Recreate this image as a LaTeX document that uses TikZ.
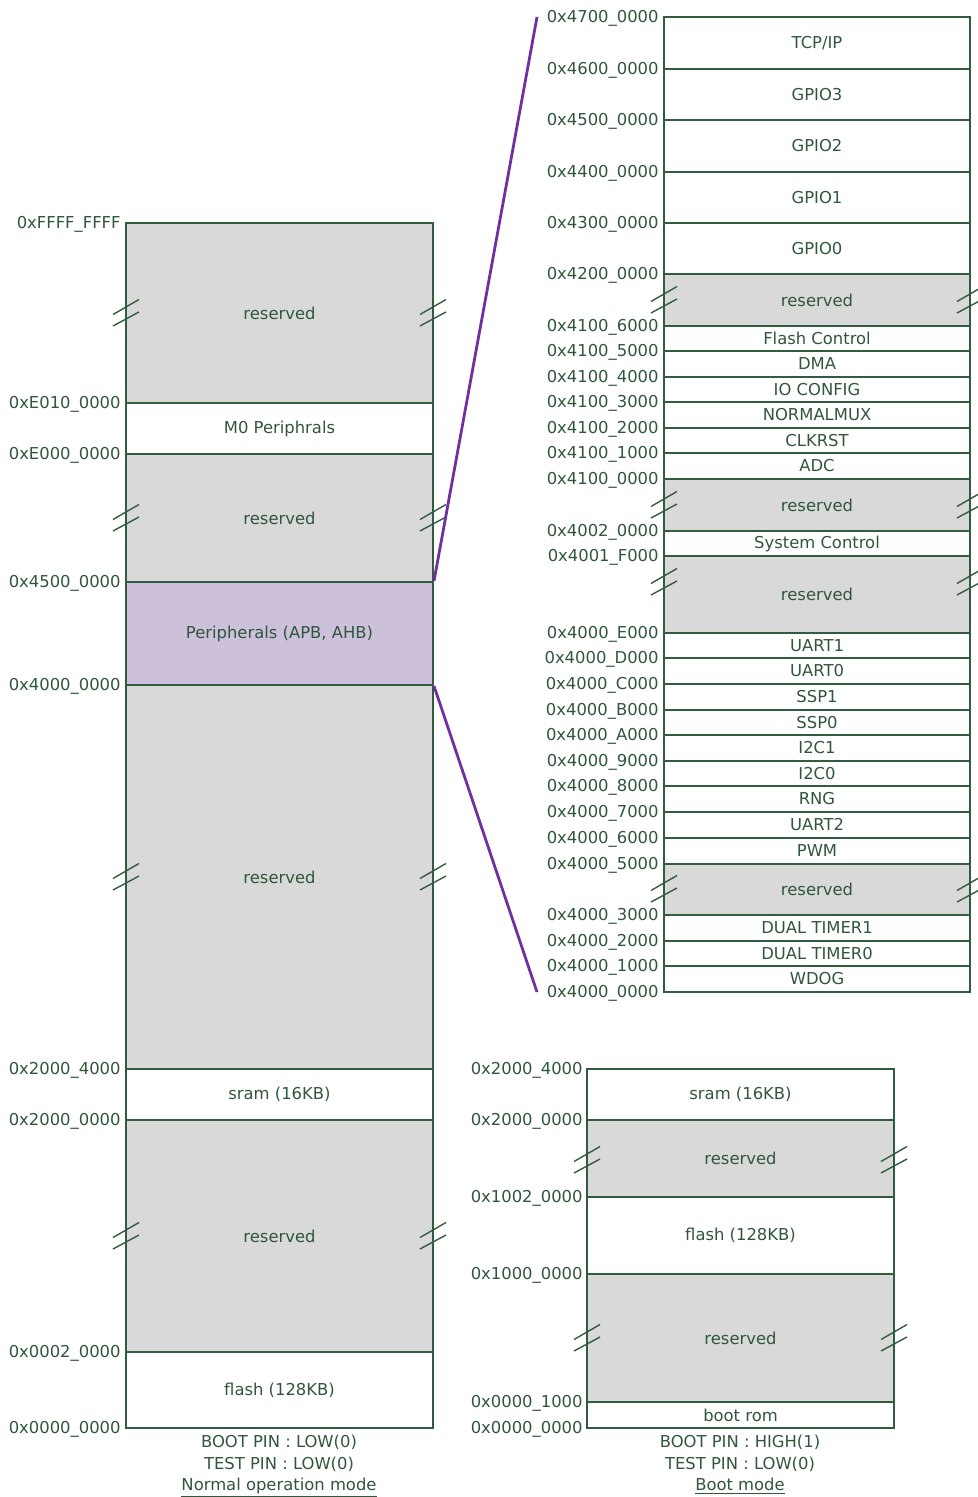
\documentclass[tikz,border=0pt]{standalone}
\usepackage{fontspec}
\setmainfont{DejaVu Sans}

\definecolor{memline}{RGB}{50,92,64}
\definecolor{memtext}{RGB}{48,86,60}
\definecolor{resgray}{RGB}{217,217,217}
\definecolor{perifill}{RGB}{204,192,218}
\definecolor{zoomline}{RGB}{112,48,160}

\tikzset{
  blk/.style={draw=memline, line width=1pt},
  resblk/.style={blk, fill=resgray},
  addr/.style={anchor=base east, inner sep=0pt, text=memtext},
  lbl/.style={inner sep=0pt, text=memtext},
  captxt/.style={lbl, anchor=base},
  brk/.style={draw=memline, line width=0.7pt},
  zoomln/.style={draw=zoomline, line width=1.4pt},
}
% break mark across an edge
\newcommand{\brkmark}[2]{%
  \draw[brk] (#1-13,#2+1.5) -- (#1+13,#2-13.5);
  \draw[brk] (#1-13,#2+13) -- (#1+13,#2-1);
}

\begin{document}
\begin{tikzpicture}[x=0.5pt, y=-0.5pt, font=\fontsize{8.2}{10}\selectfont]
    \useasboundingbox (0,0) rectangle (978,1497);

    % Normal operation map
    \foreach \ya/\yb/\txt/\sty in {223/403/reserved/resblk, 403/454/M0 Periphrals/blk,
        454/582/reserved/resblk, 685/1069/reserved/resblk, 1069/1120/sram (16KB)/blk,
        1120/1352/reserved/resblk, 1352/1428/flash (128KB)/blk}{
      \draw[\sty] (126,\ya) rectangle (433,\yb);
      \node[lbl] (nm-\ya) at (279.5,{(\ya+\yb)/2}) {\txt};
    }
    \node[blk, fill=perifill, lbl, minimum width=153.5pt, minimum height=51.5pt]
      (periph) at (279.5,633.5) {Peripherals (APB, AHB)};
    \foreach \y in {313,518,877,1236}{
      \brkmark{126}{\y}
      \brkmark{433}{\y}
    }
    \foreach \y/\a in {223/0xFFFF\_FFFF, 403/0xE010\_0000, 454/0xE000\_0000,
        582/0x4500\_0000, 685/0x4000\_0000, 1069/0x2000\_4000, 1120/0x2000\_0000,
        1352/0x0002\_0000, 1428/0x0000\_0000}
      \node[addr] (na-\y) at (121,\y+5.5) {\a};

    % Peripheral map
    \foreach \ya/\yb/\txt/\sty in {17/69/{TCP/IP}/blk, 69/120/GPIO3/blk, 120/172/GPIO2/blk,
        172/223/GPIO1/blk, 223/274/GPIO0/blk, 274/326/reserved/resblk,
        326/351/Flash Control/blk, 351/377/DMA/blk, 377/402/IO CONFIG/blk,
        402/428/NORMALMUX/blk, 428/453/CLKRST/blk, 453/479/ADC/blk,
        479/531/reserved/resblk, 531/556/System Control/blk, 556/633/reserved/resblk,
        633/658/UART1/blk, 658/684/UART0/blk, 684/710/SSP1/blk, 710/735/SSP0/blk,
        735/761/I2C1/blk, 761/786/I2C0/blk, 786/812/RNG/blk, 812/838/UART2/blk,
        838/864/PWM/blk, 864/915/reserved/resblk, 915/941/DUAL TIMER1/blk,
        941/966/DUAL TIMER0/blk, 966/992/WDOG/blk}{
      \draw[\sty] (664,\ya) rectangle (970,\yb);
      \node[lbl] (np-\ya) at (817,{(\ya+\yb)/2}) {\txt};
    }
    \foreach \y in {300,505,582,889}{
      \brkmark{664}{\y}
      \brkmark{970}{\y}
    }
    \foreach \y/\a in {17/0x4700\_0000, 69/0x4600\_0000, 120/0x4500\_0000,
        172/0x4400\_0000, 223/0x4300\_0000, 274/0x4200\_0000, 326/0x4100\_6000,
        351/0x4100\_5000, 377/0x4100\_4000, 402/0x4100\_3000, 428/0x4100\_2000,
        453/0x4100\_1000, 479/0x4100\_0000, 531/0x4002\_0000, 556/0x4001\_F000,
        633/0x4000\_E000, 658/0x4000\_D000, 684/0x4000\_C000, 710/0x4000\_B000,
        735/0x4000\_A000, 761/0x4000\_9000, 786/0x4000\_8000, 812/0x4000\_7000,
        838/0x4000\_6000, 864/0x4000\_5000, 915/0x4000\_3000, 941/0x4000\_2000,
        966/0x4000\_1000, 992/0x4000\_0000}
      \node[addr] (pa-\y) at (659,\y+5.5) {\a};

    % Zoom lines
    \coordinate (zoomtop) at (537,17);
    \coordinate (zoombot) at (537,992);
    \draw[zoomln] (periph.north east) -- (zoomtop);
    \draw[zoomln] (periph.south east) -- (zoombot);

    % Boot mode map
    \foreach \ya/\yb/\txt/\sty in {1069/1120/sram (16KB)/blk, 1120/1197/reserved/resblk,
        1197/1274/flash (128KB)/blk, 1274/1402/reserved/resblk, 1402/1428/boot rom/blk}{
      \draw[\sty] (587,\ya) rectangle (894,\yb);
      \node[lbl] (nb-\ya) at (740.5,{(\ya+\yb)/2}) {\txt};
    }
    \foreach \y in {1160,1338}{
      \brkmark{587}{\y}
      \brkmark{894}{\y}
    }
    \foreach \y/\a in {1069/0x2000\_4000, 1120/0x2000\_0000, 1197/0x1002\_0000,
        1274/0x1000\_0000, 1402/0x0000\_1000, 1428/0x0000\_0000}
      \node[addr] (ba-\y) at (583,\y+5.5) {\a};

    % Captions
    \node[captxt] (cap-nm1) at (279,1447) {BOOT PIN : LOW(0)};
    \node[captxt] (cap-nm2) at (279,1469) {TEST PIN : LOW(0)};
    \node[captxt] (cap-nm3) at (279,1490) {\underline{Normal operation mode}};
    \node[captxt] (cap-bt1) at (740,1447) {BOOT PIN : HIGH(1)};
    \node[captxt] (cap-bt2) at (740,1469) {TEST PIN : LOW(0)};
    \node[captxt] (cap-bt3) at (740,1490) {\underline{Boot mode}};
\end{tikzpicture}
\end{document}
